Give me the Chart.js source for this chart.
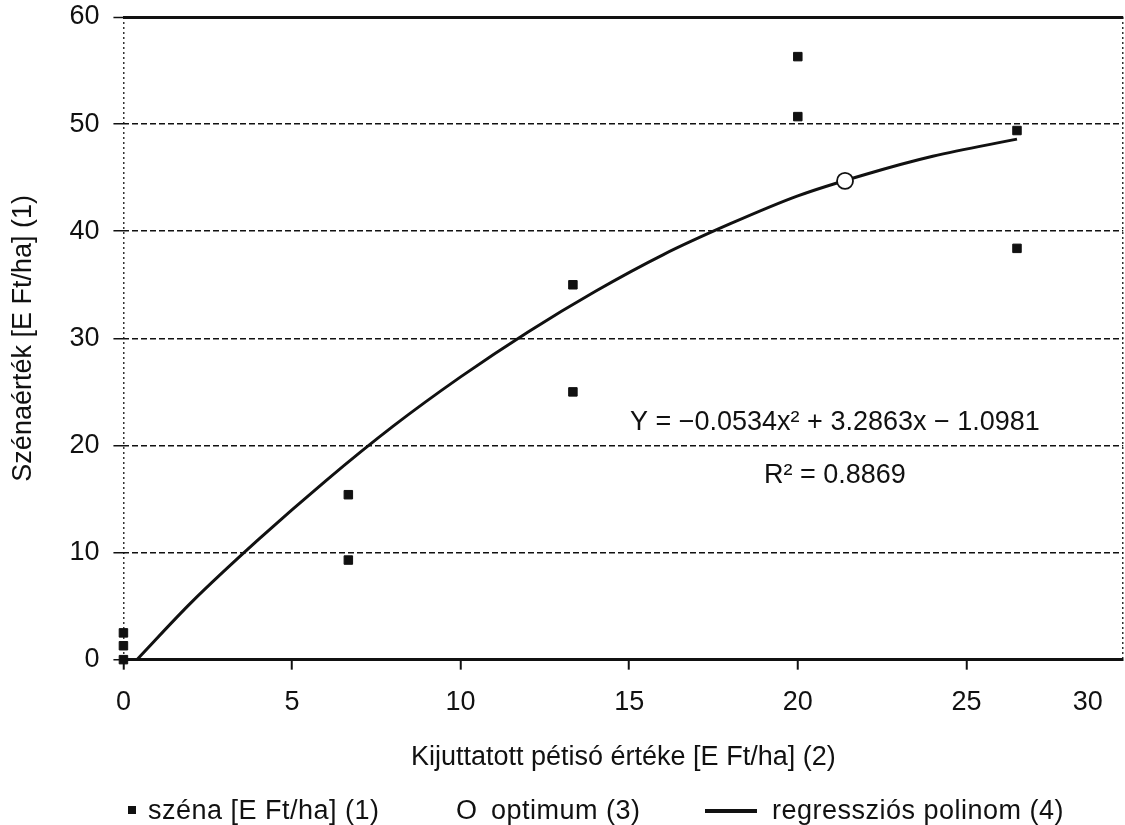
<!DOCTYPE html>
<html>
<head>
    <title>Szénaérték</title>
    <meta http-equiv="content-type" content="text/html;charset=UTF-8">
    <script src="https://cdn.jsdelivr.net/npm/chart.js"></script>
    <style>
        html, body {
            margin: 0;
            padding: 0;
            background: #fff;
            overflow: hidden;
        }

        .wrap {
            position: relative;
            width: 1125px;
            height: 825px;
            overflow: hidden;
            font-family: "Liberation Sans", Arial, sans-serif;
            color: #111;
        }

        .legend span {
            position: absolute;
            font-size: 27px;
            line-height: 30px;
            letter-spacing: 0.5px;
            top: 795px;
            white-space: nowrap;
        }

        .legend .sq {
            top: 806px;
            width: 8px;
            height: 8px;
            background: #111;
        }

        .legend .ln {
            top: 809px;
            width: 52px;
            height: 4px;
            background: #111;
        }
    </style>
</head>
<body>
<div class="wrap">
    <!-- a vászon kicsit szélesebb, a jobb szélső címke helye kilóg -->
    <canvas id="chart" width="1133" height="825"></canvas>
    <div class="legend">
        <span class="sq" style="left: 128px;"></span>
        <span style="left: 148px;">széna [E Ft/ha] (1)</span>
        <span style="left: 456px;">O</span>
        <span style="left: 491px;">optimum (3)</span>
        <span class="ln" style="left: 705px;"></span>
        <span style="left: 772px;">regressziós polinom (4)</span>
    </div>
</div>
<script>
    // szénaérték mérési pontok
    const scenaX = [0, 0, 0, 6.67, 6.67, 13.33, 13.33, 20, 20, 26.5, 26.5];
    const scenaY = [0, 1.3, 2.5, 15.4, 9.3, 35.0, 25.0, 56.3, 50.7, 49.4, 38.4];

    // optimum pont
    const optX = [21.4];
    const optY = [44.7];

    // regressziós görbe
    const regX = [0.4, 2, 4, 6, 8, 10, 12, 14, 16, 18, 20, 22, 24, 26.5];
    const regY = [0, 5.3, 11.2, 16.7, 21.8, 26.4, 30.6, 34.4, 37.8, 40.7, 43.3, 45.3, 47.0, 48.6];

    const yTicks = [0, 10, 20, 30, 40, 50, 60];
    const xTickLabels = ['0', '5', '10', '15', '20', '25', '30'];

    const equation = 'Y = \u22120.0534x\u00B2 + 3.2863x \u2212 1.0981';
    const rSquared = 'R\u00B2 = 0.8869';

    const FONT = '"Liberation Sans", Arial, sans-serif';
    const FS = 27;
    const X_MAX = 29.65;

    const toPoints = (xs, ys) => xs.map((x, i) => ({x: x, y: ys[i]}));

    // egyenlet és R2 felirat
    const equationLabel = {
        id: 'equationLabel',
        afterDatasetsDraw(chart) {
            const {ctx, scales: {x, y}} = chart;
            ctx.save();
            ctx.fillStyle = '#111';
            ctx.font = FS + 'px ' + FONT;
            ctx.textAlign = 'center';
            ctx.textBaseline = 'middle';
            ctx.fillText(equation, x.getPixelForValue(21.1), y.getPixelForValue(22.1));
            ctx.fillText(rSquared, x.getPixelForValue(21.1), y.getPixelForValue(17.2));
            ctx.restore();
        }
    };

    new Chart(document.getElementById('chart'), {
        type: 'scatter',
        data: {
            datasets: [{
                label: 'optimum (3)',
                data: toPoints(optX, optY),
                pointStyle: 'circle',
                pointRadius: 8,
                backgroundColor: '#fff',
                borderColor: '#111',
                borderWidth: 1.8,
                clip: false
            }, {
                label: 'széna [E Ft/ha] (1)',
                data: toPoints(scenaX, scenaY),
                pointStyle: 'rect',
                pointRadius: 6,
                backgroundColor: '#111',
                borderColor: '#111',
                borderWidth: 1,
                clip: false
            }, {
                label: 'regressziós polinom (4)',
                type: 'line',
                data: toPoints(regX, regY),
                showLine: true,
                borderColor: '#111',
                borderWidth: 3,
                pointRadius: 0,
                cubicInterpolationMode: 'monotone',
                fill: false
            }]
        },
        options: {
            responsive: false,
            animation: false,
            layout: {
                padding: {left: 0, right: 3, top: 17, bottom: 51}
            },
            plugins: {
                legend: {display: false},
                tooltip: {enabled: false}
            },
            scales: {
                x: {
                    type: 'linear',
                    min: 0,
                    max: X_MAX,
                    afterBuildTicks: function (scale) {
                        // a "30" felirat a képen a jobb szél elé van húzva
                        const vals = xTickLabels.map(Number);
                        vals[vals.length - 1] = X_MAX - 1.05;
                        scale.ticks = vals.map(v => ({value: v})).concat([{value: X_MAX}]);
                    },
                    ticks: {
                        autoSkip: false,
                        maxRotation: 0,
                        padding: 3,
                        color: '#111',
                        font: {family: FONT, size: FS, lineHeight: 2.22},
                        callback: function (value, index) {
                            return index < xTickLabels.length ? xTickLabels[index] : '';
                        }
                    },
                    grid: {
                        color: ctx => (ctx.tick && (ctx.tick.value === 0 || ctx.tick.value === X_MAX)) ? '#333' : 'transparent',
                        lineWidth: 1.5,
                        tickColor: ctx => (ctx.tick && ctx.tick.value <= 25) ? '#111' : 'transparent',
                        tickLength: 10,
                        tickWidth: 2
                    },
                    border: {
                        display: true,
                        color: '#111',
                        width: 3,
                        dash: [2, 3]
                    },
                    title: {
                        display: true,
                        text: 'Kijuttatott pétisó értéke [E Ft/ha] (2)',
                        color: '#111',
                        font: {family: FONT, size: FS},
                        padding: {top: 6, bottom: 0}
                    }
                },
                y: {
                    min: 0,
                    max: 60,
                    afterBuildTicks: function (scale) {
                        scale.ticks = yTicks.map(v => ({value: v}));
                    },
                    ticks: {
                        padding: 14,
                        color: '#111',
                        font: {family: FONT, size: FS, lineHeight: 0.2}
                    },
                    grid: {
                        color: ctx => (ctx.tick && ctx.tick.value === 0) ? 'transparent' : '#111',
                        lineWidth: ctx => (ctx.tick && ctx.tick.value === 60) ? 3 : 1.5,
                        tickColor: '#111',
                        tickLength: 10,
                        tickWidth: 1.5
                    },
                    border: {
                        display: false,
                        dash: ctx => (ctx.tick && ctx.tick.value === 60) ? [] : [6, 3]
                    },
                    title: {
                        display: true,
                        text: 'Szénaérték [E Ft/ha] (1)',
                        color: '#111',
                        font: {family: FONT, size: FS},
                        padding: {top: 7, bottom: 16}
                    }
                }
            }
        },
        plugins: [equationLabel]
    });
</script>
</body>
</html>
